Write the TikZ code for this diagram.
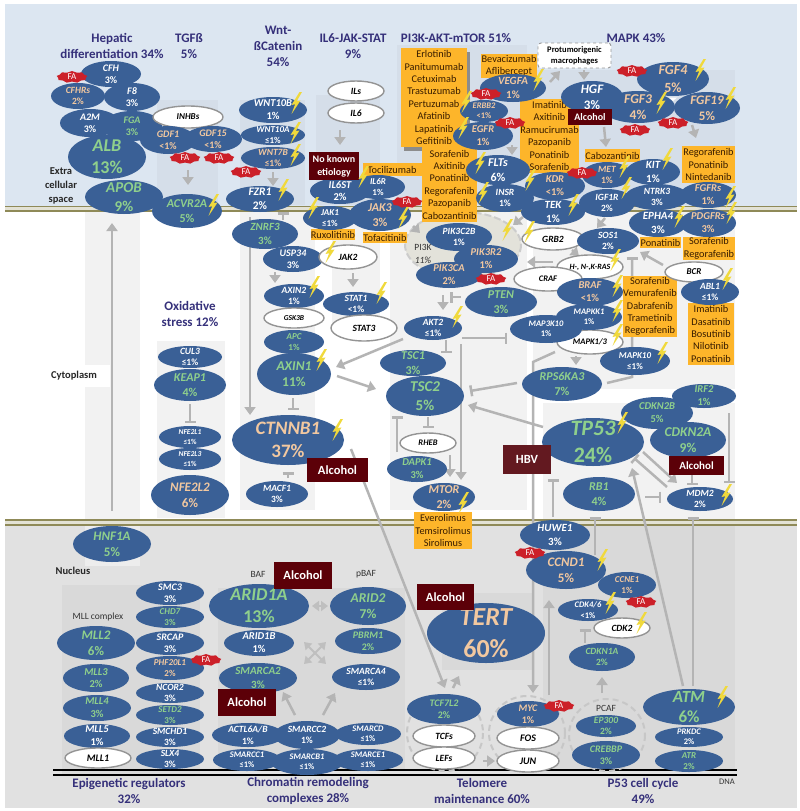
\documentclass[tikz,border=0pt]{standalone}
\usepackage{fontspec}
\setmainfont{Carlito}
\usetikzlibrary{arrows.meta,shapes.geometric,shapes.symbols}
\pgfdeclarelayer{back}
\pgfdeclarelayer{conn}
\pgfsetlayers{back,conn,main}
\definecolor{genefill}{HTML}{3A6096}
\definecolor{greentxt}{HTML}{8FD08C}
\definecolor{tantxt}{HTML}{F2C8A0}
\definecolor{linkgray}{HTML}{B4B4B4}
\definecolor{drugfill}{HTML}{FDB52A}
\definecolor{maroon}{HTML}{5C0008}
\definecolor{navytxt}{HTML}{35307A}
\definecolor{boltc}{HTML}{F0D93C}
\definecolor{olive}{HTML}{8F8A58}
\definecolor{bandblue}{HTML}{DCE6F1}
\definecolor{bandpanel}{HTML}{D5DEE9}
\definecolor{nucbase}{HTML}{E1E1E1}
\definecolor{nucshade}{HTML}{D9D9D9}
\definecolor{cytopanel}{HTML}{F2F2F2}
\definecolor{badge}{HTML}{CC2029}
\definecolor{blobfill}{HTML}{E3E2DA}
\tikzset{
  genebase/.style={ellipse,inner sep=-45pt,align=center,fill=genefill},
  wn/.style={text=white},
  gn/.style={text=greentxt},
  tn/.style={text=tantxt},
  opennode/.style={ellipse,inner sep=-45pt,align=center,fill=white,draw=black!42,line width=1.4pt,text=black},
  drugbox/.style={rectangle,inner sep=0pt,fill=drugfill,align=center,text=black!78!orange,
    font=\fontsize{10.3}{12.4}\selectfont},
  alcbox/.style={rectangle,inner sep=0pt,fill=maroon,text=white,font=\fontsize{12.5}{14}\selectfont\bfseries},
  fabadge/.style={starburst,starburst points=9,starburst point height=1.4pt,random starburst=0,
    minimum width=31pt,minimum height=12pt,inner sep=0pt,fill=badge,text=white,
    font=\fontsize{9}{10}\selectfont},
  title/.style={align=center,text=navytxt,inner sep=0pt,font=\fontsize{13}{16}\selectfont\bfseries},
  place/.style={align=center,text=black!85,inner sep=0pt,font=\fontsize{10.5}{14}\selectfont\bfseries},
  minor/.style={align=center,text=black!80,inner sep=0pt,font=\fontsize{9.5}{13}\selectfont},
  arr/.style={draw=linkgray,line width=2.5pt,-{Triangle[length=8pt,width=11pt]}},
  tee/.style={draw=linkgray,line width=2.5pt,-{Bar[width=11pt]}},
  panel/.style={fill=cytopanel,draw=none},
  toppanel/.style={fill=bandpanel,draw=none},
  nucpanel/.style={fill=nucshade,draw=none},
  ring/.style={draw=black!22,line width=2pt,dash pattern=on 6pt off 4pt},
}
% gene{id}{x}{y}{rx}{ry}{size}{colour}{name}{share}
\newcommand{\gene}[9]{%
  \pgfmathsetmacro\gl{#6*1.22}%
  \node[genebase,#7,minimum width=2*#4 pt,minimum height=2*#5 pt,
    font=\fontsize{#6}{\gl}\selectfont\bfseries] (#1) at (#2,#3) {{\itshape #8}\\#9};}
% open{id}{x}{y}{rx}{ry}{size}{name}
\newcommand{\opn}[7]{%
  \node[opennode,minimum width=2*#4 pt,minimum height=2*#5 pt,
    font=\fontsize{#6}{#6}\selectfont\bfseries\itshape] (#1) at (#2,#3) {#7};}
\newcommand{\bolt}[2]{%
  \fill[boltc,shift={(#1,#2)}] (3.5,-11) -- (-4.5,2) -- (-.8,1.2) -- (-4.5,11) -- (4.5,-2.5) -- (.8,-2) -- (6,-11) -- cycle;}
\newcommand{\conn}[5][arr]{\draw[#1] ([shift={(#3)}]#2.center) -- ([shift={(#5)}]#4.center);}
\begin{document}
\begin{tikzpicture}[x=1pt,y=-1pt]
\useasboundingbox (0,0) rectangle (800,811);

\begin{pgfonlayer}{back}
  \fill[white] (0,0) rectangle (800,811);
  % extracellular band, nucleus and membranes
  \fill[bandblue] (5,4) rectangle (797,206);
  \fill[nucbase] (5,525) rectangle (797,808);
  % pathway panels
  \fill[panel] (85,212) rectangle (140,520);
  \fill[white] (85,365) rectangle (110,387);
  \fill[panel] (157,341) rectangle (225,518);
  \fill[panel] (240,212) rectangle (315,510);
  \fill[panel] (332,212) rectangle (380,325);
  \fill[panel] (390,212) rectangle (527,510);
  \fill[panel] (533,212) rectangle (735,389);
  \fill[panel] (543,403) rectangle (735,520);
  \fill[toppanel] (157,100) rectangle (218,205);
  \fill[toppanel] (240,100) rectangle (305,205);
  \fill[toppanel] (316,95) rectangle (380,205);
  \fill[toppanel] (397,45) rectangle (527,205);
  \fill[toppanel] (533,70) rectangle (735,205);
  \fill[nucpanel] (62,585) rectangle (200,775);
  \fill[nucpanel] (218,588) rectangle (405,770);
  \fill[nucpanel] (442,593) rectangle (533,670);
  \fill[nucpanel] (543,525) rectangle (735,770);
  \fill[nucbase!60!white] (85,525) rectangle (140,566);
  % lipid bilayers
  \fill[olive!25!white] (5,206) rectangle (797,211);
  \fill[olive!25!white] (5,520) rectangle (797,525);
  \draw[olive,line width=1.8pt] (5,206.5) -- (797,206.5) (5,210.8) -- (797,210.8);
  \draw[olive,line width=1.8pt] (5,520.2) -- (797,520.2) (5,524.8) -- (797,524.8);
  % chromatin strand
  \draw[black,line width=1.8pt] (53,770) -- (737,770) (53,775) -- (737,775);
  % complexes
  \draw[ring] (445,733) ellipse (38 and 38);
  \draw[ring] (527,733) ellipse (38 and 37);
  \draw[ring] (607,735) ellipse (38 and 36);
  \fill[blobfill] (463,245) ellipse (58 and 33);
  \draw[black!20,line width=2pt,dash pattern=on 7pt off 3pt] (463,245) ellipse (58 and 33);
\end{pgfonlayer}

% section headings and compartments
\node[title] (tHep) at (112,46) {Hepatic\\differentiation 34\%};
\node[title] (tTgf) at (189,46) {TGFß\\5\%};
\node[title] (tWnt) at (278,46) {Wnt-\\ßCatenin\\54\%};
\node[title] (tIl) at (353,46) {IL6-JAK-STAT\\9\%};
\node[title] (tPi) at (456,38) {PI3K-AKT-mTOR 51\%};
\node[title] (tMap) at (636,38) {MAPK 43\%};
\node[title] (tOx) at (190,314) {Oxidative\\stress 12\%};
\node[title] (tEpi) at (129,791) {Epigenetic regulators\\32\%};
\node[title] (tChr) at (308,791) {Chromatin remodeling\\complexes 28\%};
\node[title] (tTel) at (482,791) {Telomere\\maintenance 60\%};
\node[title] (tP53) at (643,791) {P53 cell cycle\\49\%};
\node[place] (pExt) at (61,186) {Extra\\cellular\\space};
\node[place] (pCyt) at (74,376) {Cytoplasm};
\node[place] (pNuc) at (73,571) {Nucleus};
\node[minor] (mMll) at (98,617) {MLL complex};
\node[minor] (mBaf) at (258,574) {BAF};
\node[minor] (mPbaf) at (366,574) {pBAF};
\node[minor] (mPcaf) at (606,708) {PCAF};
\node[minor,font=\fontsize{8.5}{10}\selectfont] (mDna) at (727,782) {DNA};

% targeted therapies
\fill[black!45] (404,52) rectangle (470,151);
\node[drugbox,minimum width=66pt,minimum height=99pt] (dEgfr) at (434,97.5) {Erlotinib\\Panitumumab\\Cetuximab\\Trastuzumab\\Pertuzumab\\Afatinib\\Lapatinib\\Gefitinib};
\node[drugbox,minimum width=59pt,minimum height=13pt] (dToc) at (392,169.5) {Tocilizumab};
\node[drugbox,minimum width=55pt,minimum height=75pt] (dSor) at (449.5,184.5) {Sorafenib\\Axitinib\\Ponatinib\\Regorafenib\\Pazopanib\\Cabozantinib};
\node[drugbox,minimum width=56pt,minimum height=24pt] (dBev) at (509,66) {Bevacizumab\\Aflibercept};
\node[drugbox,minimum width=57pt,minimum height=74pt] (dIma) at (549.5,136) {Imatinib\\Axitinib\\Ramucirumab\\Pazopanib\\Ponatinib\\Sorafenib};
\node[drugbox,minimum width=55pt,minimum height=13pt] (dCab) at (612.5,155.5) {Cabozantinib};
\node[drugbox,minimum width=53pt,minimum height=37pt] (dReg) at (708.5,164.5) {Regorafenib\\Ponatinib\\Nintedanib};
\node[drugbox,minimum width=41pt,minimum height=11pt] (dPon) at (660.5,242.5) {Ponatinib};
\node[drugbox,minimum width=52pt,minimum height=23pt] (dSr2) at (709,248.5) {Sorafenib\\Regorafenib};
\node[drugbox,minimum width=44pt,minimum height=11pt] (dRux) at (333,234.5) {Ruxolitinib};
\node[drugbox,minimum width=44pt,minimum height=11pt] (dTof) at (385,237.5) {Tofacitinib};
\node[drugbox,minimum width=54pt,minimum height=61pt] (dBraf) at (650,306.5) {Sorafenib\\Vemurafenib\\Dabrafenib\\Trametinib\\Regorafenib};
\node[drugbox,minimum width=46pt,minimum height=62pt] (dAbl) at (711,334) {Imatinib\\Dasatinib\\Bosutinib\\Nilotinib\\Ponatinib};
\node[drugbox,minimum width=58pt,minimum height=37pt] (dEve) at (443,530.5) {Everolimus\\Temsirolimus\\Sirolimus};

% hepatic differentiation
\gene{CFH}{111}{74}{30}{13}{10}{wn}{CFH}{3\%}
\gene{CFHRs}{78}{96}{27}{13}{9.5}{tn}{CFHRs}{2\%}
\gene{Feight}{132}{97}{28}{14}{10}{wn}{F8}{3\%}
\gene{AtwoM}{90}{123}{30}{14}{10}{wn}{A2M}{3\%}
\gene{FGA}{132}{126}{30}{15}{10}{gn}{FGA}{3\%}
\gene{ALB}{107}{157}{39}{22}{18}{gn}{ALB}{13\%}
\gene{APOB}{124}{197}{39}{17}{15}{gn}{APOB}{9\%}
\gene{HNFoneA}{112}{544}{39}{18}{13}{gn}{HNF1A}{5\%}

% TGF-beta
\opn{INHBs}{188}{117}{35}{11}{9}{INHBs}
\gene{GDFone}{168}{140}{28}{14}{10}{tn}{GDF1}{<1\%}
\gene{GDFfifteen}{213}{139}{29}{13}{10}{tn}{GDF15}{<1\%}
\gene{ACVR}{187}{211}{35}{17}{12}{gn}{ACVR2A}{5\%}

% Wnt and beta-catenin
\gene{WNTtenB}{273}{110}{34}{13}{10.5}{wn}{WNT10B}{1\%}
\gene{WNTtenA}{273}{135}{32}{10}{9}{wn}{WNT10A}{≤1\%}
\gene{WNTsevenB}{273}{158}{32}{11}{9.5}{tn}{WNT7B}{≤1\%}
\gene{FZR}{260}{199}{34}{13}{11.5}{wn}{FZR1}{2\%}
\gene{ZNRF}{265}{234}{33}{15}{11}{gn}{ZNRF3}{3\%}
\gene{USP}{293}{259}{30}{13}{10}{wn}{USP34}{3\%}
\opn{JAKtwo}{348}{257}{29}{12}{9.5}{JAK2}
\gene{AXINtwo}{294}{296}{30}{12}{9.5}{wn}{AXIN2}{1\%}
\opn{GSK}{294}{318}{30}{10}{7.5}{GSK3B}
\gene{APC}{294}{342}{30}{12}{9}{gn}{APC}{1\%}
\gene{AXINone}{294}{374}{37}{21}{13.5}{gn}{AXIN1}{11\%}
\gene{CTNNB}{288}{440}{56}{25}{19}{tn}{CTNNB1}{37\%}
\gene{MACF}{277}{494}{31}{13}{9.5}{wn}{MACF1}{3\%}

% oxidative stress
\gene{CUL}{190}{357}{32}{11}{9.5}{wn}{CUL3}{≤1\%}
\gene{KEAP}{190}{385}{36}{16}{12}{gn}{KEAP1}{4\%}
\gene{NFEone}{190}{437}{31}{11}{7.5}{wn}{NFE2L1}{≤1\%}
\gene{NFEthree}{190}{459}{31}{11}{7.5}{wn}{NFE2L3}{≤1\%}
\gene{NFEtwo}{190}{495}{39}{20}{13}{tn}{NFE2L2}{6\%}

% IL6-JAK-STAT
\opn{ILs}{356}{91}{28}{10}{9.5}{ILs}
\opn{ILsix}{356}{113}{28}{10}{9.5}{IL6}
\gene{ILsixST}{340}{191}{30}{13}{10.5}{wn}{IL6ST}{2\%}
\gene{ILsixR}{378}{187}{27}{12}{9}{wn}{IL6R}{1\%}
\gene{JAKone}{330}{218}{27}{12}{9}{wn}{JAK1}{≤1\%}
\gene{JAKthree}{380}{215}{31}{16}{12}{tn}{JAK3}{3\%}
\gene{STATone}{356}{304}{33}{12}{9.5}{wn}{STAT1}{<1\%}
\opn{STATthree}{364}{328}{33}{13}{9.5}{STAT3}

% PI3K-AKT-mTOR
\node[minor] (mPi) at (423,247) {PI3K};
\node[minor,font=\fontsize{9.5}{12}\selectfont\itshape] (mPct) at (423,260) {11\%};
\gene{PIKctwo}{459}{237}{33}{14}{9.5}{wn}{PIK3C2B}{1\%}
\gene{PIKrtwo}{486}{259}{32}{14}{10.5}{tn}{PIK3R2}{1\%}
\gene{PIKca}{449}{275}{33}{13}{10.5}{tn}{PIK3CA}{2\%}
\gene{PTEN}{501}{302}{36}{15}{12}{gn}{PTEN}{3\%}
\gene{AKT}{433}{328}{29}{12}{9.5}{wn}{AKT2}{≤1\%}
\gene{TSCone}{413}{363}{33}{13}{12}{gn}{TSC1}{3\%}
\gene{TSCtwo}{425}{396}{39}{20}{15}{gn}{TSC2}{5\%}
\opn{RHEB}{428}{443}{28}{10}{8.5}{RHEB}
\gene{DAPK}{417}{469}{30}{13}{10.5}{gn}{DAPK1}{3\%}
\gene{MTOR}{444}{497}{31}{14}{12}{tn}{MTOR}{2\%}

% receptors and ligands
\gene{VEGFA}{513}{88}{33}{14}{11}{tn}{VEGFA}{1\%}
\gene{ERBB}{484}{111}{24}{11}{8.5}{tn}{ERBB2}{<1\%}
\gene{EGFR}{483}{136}{30}{14}{10.5}{tn}{EGFR}{1\%}
\gene{FLTs}{498}{170}{32}{15}{12}{wn}{FLTs}{6\%}
\gene{INSR}{505}{198}{29}{14}{9.5}{wn}{INSR}{1\%}
\gene{KDR}{555}{186}{30}{14}{10.5}{tn}{KDR}{<1\%}
\gene{TEK}{553}{212}{32}{13}{11}{wn}{TEK}{1\%}
\gene{MET}{607}{175}{25}{13}{9.5}{tn}{MET}{1\%}
\gene{IGF}{607}{203}{28}{14}{9.5}{wn}{IGF1R}{2\%}
\gene{KIT}{653}{172}{27}{13}{11}{wn}{KIT}{1\%}
\gene{NTRK}{657}{197}{32}{13}{9.5}{wn}{NTRK3}{3\%}
\gene{FGFRs}{708}{195}{28}{13}{10.5}{tn}{FGFRs}{1\%}
\gene{EPHA}{658}{223}{29}{14}{11}{wn}{EPHA4}{3\%}
\gene{PDGFRs}{708}{223}{28}{14}{10.5}{tn}{PDGFRs}{3\%}
\gene{HGF}{592}{97}{31}{16}{13}{wn}{HGF}{3\%}
\gene{FGFfour}{673}{79}{36}{17}{14}{tn}{FGF4}{5\%}
\gene{FGFnineteen}{707}{108}{33}{16}{13}{tn}{FGF19}{5\%}
\gene{FGFthree}{638}{107}{37}{16}{13.5}{tn}{FGF3}{4\%}
\fill[white] (669,97.5) -- (677,97.5) -- (673,101) -- cycle;

% MAPK cascade
\opn{GRB}{553}{239}{31}{11}{9.5}{GRB2}
\gene{SOS}{608}{241}{31}{13}{9.5}{wn}{SOS1}{2\%}
\opn{RAS}{590}{267}{33}{12}{8}{H-, N-,K-RAS}
\opn{CRAF}{548}{279}{34}{12}{8.5}{CRAF}
\gene{BRAF}{590}{292}{33}{14}{10.5}{tn}{BRAF}{<1\%}
\opn{MAPKo}{590}{342}{33}{12}{8.5}{MAPK1/3}
\gene{MAPKK}{589}{317}{33}{13}{8.5}{wn}{MAPKK1}{1\%}
\gene{MAPkten}{546}{329}{36}{14}{8.5}{wn}{MAP3K10}{1\%}
\gene{MAPKten}{635}{361}{35}{14}{9}{wn}{MAPK10}{≤1\%}
\gene{RPS}{562}{384}{40}{17}{12}{gn}{RPS6KA3}{7\%}
\opn{BCR}{694}{272}{29}{10}{9}{BCR}
\gene{ABL}{710}{292}{29}{13}{9.5}{wn}{ABL1}{≤1\%}

% P53 and the cell cycle
\gene{IRF}{704}{396}{32}{12}{10.5}{gn}{IRF2}{1\%}
\gene{CDKNtwoB}{657}{413}{36}{16}{10.5}{gn}{CDKN2B}{5\%}
\gene{CDKNtwoA}{688}{440}{38}{18}{13.5}{gn}{CDKN2A}{9\%}
\gene{TP}{593}{442}{51}{24}{22}{gn}{TP53}{24\%}
\gene{RB}{599}{494}{36}{17}{12}{gn}{RB1}{4\%}
\gene{MDM}{700}{499}{33}{12}{9.5}{wn}{MDM2}{2\%}
\gene{HUWE}{555}{535}{35}{15}{11}{wn}{HUWE1}{3\%}
\gene{CCNE}{627}{585}{29}{13}{9}{tn}{CCNE1}{1\%}
\gene{CCND}{566}{570}{40}{19}{13}{tn}{CCND1}{5\%}
\gene{CDKfour}{588}{610}{30}{11}{8.5}{wn}{CDK4/6}{<1\%}
\opn{CDKtwo}{622}{628}{28}{10}{9.5}{CDK2}
\gene{CDKNoneA}{602}{657}{33}{14}{9.5}{gn}{CDKN1A}{2\%}
\gene{EP}{606}{726}{30}{11}{9.5}{gn}{EP300}{2\%}
\gene{CREBBP}{606}{755}{34}{14}{10}{gn}{CREBBP}{3\%}
\gene{ATM}{689}{707}{46}{18}{17}{gn}{ATM}{6\%}
\gene{PRKDC}{689}{737}{34}{10}{8.5}{wn}{PRKDC}{2\%}
\gene{ATR}{689}{761}{34}{11}{9}{gn}{ATR}{2\%}

% telomere maintenance
\gene{TERT}{486}{633}{59}{30}{26}{tn}{TERT}{60\%}
\gene{TCF}{444}{709}{37}{15}{10}{gn}{TCF7L2}{2\%}
\opn{TCFs}{444}{736}{31}{11}{9.5}{TCFs}
\opn{LEFs}{444}{758}{31}{11}{9.5}{LEFs}
\gene{MYC}{528}{714}{31}{13}{10}{tn}{MYC}{1\%}
\opn{FOS}{528}{738}{31}{11}{10}{FOS}
\opn{JUN}{528}{761}{31}{11}{10}{JUN}

% epigenetic regulators
\gene{SMC}{170}{593}{34}{12}{10}{wn}{SMC3}{3\%}
\gene{CHD}{170}{617}{34}{11}{9}{gn}{CHD7}{3\%}
\gene{SRCAP}{170}{643}{34}{12}{10}{wn}{SRCAP}{3\%}
\gene{PHF}{170}{668}{34}{12}{9}{tn}{PHF20L1}{2\%}
\gene{NCOR}{170}{693}{34}{10}{9.5}{wn}{NCOR2}{3\%}
\gene{SETD}{170}{715}{34}{10}{9}{gn}{SETD2}{3\%}
\gene{SMCHD}{170}{737}{34}{10}{9.5}{wn}{SMCHD1}{3\%}
\gene{SLX}{170}{759}{34}{10}{9.5}{wn}{SLX4}{3\%}
\gene{MLLtwo}{96}{643}{39}{17}{13}{gn}{MLL2}{6\%}
\gene{MLLthree}{96}{678}{33}{14}{10.5}{gn}{MLL3}{2\%}
\gene{MLLfour}{97}{708}{34}{13}{10.5}{gn}{MLL4}{3\%}
\gene{MLLfive}{97}{736}{33}{12}{10.5}{wn}{MLL5}{1\%}
\opn{MLLone}{98}{758}{33}{10}{10}{MLL1}

% chromatin remodelling
\gene{ARIDoneA}{259}{606}{50}{22}{18}{gn}{ARID1A}{13\%}
\gene{ARIDoneB}{259}{643}{35}{13}{10.5}{wn}{ARID1B}{1\%}
\gene{SMARCAtwo}{258}{678}{39}{15}{11}{gn}{SMARCA2}{3\%}
\gene{ARIDtwo}{368}{606}{38}{19}{13.5}{gn}{ARID2}{7\%}
\gene{PBRM}{368}{641}{33}{13}{10}{gn}{PBRM1}{2\%}
\gene{SMARCAfour}{366}{677}{34}{13}{9.5}{wn}{SMARCA4}{≤1\%}
\gene{ACTL}{248}{735}{36}{12}{9.5}{wn}{ACTL6A/B}{1\%}
\gene{SMARCD}{368}{734}{33}{11}{8.5}{wn}{SMARCD}{≤1\%}
\gene{SMARCCtwo}{307}{735}{33}{14}{9.5}{wn}{SMARCC2}{1\%}
\gene{SMARCCone}{247}{760}{34}{11}{8.5}{wn}{SMARCC1}{≤1\%}
\gene{SMARCE}{368}{760}{35}{11}{8.5}{wn}{SMARCE1}{≤1\%}
\gene{SMARCB}{307}{762}{36}{13}{8.5}{wn}{SMARCB1}{≤1\%}

% aetiological factors
\node[alcbox,minimum width=50pt,minimum height=28pt,align=center,font=\fontsize{10}{13}\selectfont\bfseries] (aNk) at (334,166) {No known\\etiology};
\node[alcbox,minimum width=61pt,minimum height=24pt] (aCtn) at (337.5,470) {Alcohol};
\node[alcbox,minimum width=44pt,minimum height=16pt,font=\fontsize{10}{12}\selectfont\bfseries] (aHgf) at (590,117) {Alcohol};
\node[alcbox,minimum width=55pt,minimum height=19pt,font=\fontsize{11}{13}\selectfont\bfseries] (aMdm) at (696.5,465.5) {Alcohol};
\node[alcbox,minimum width=48pt,minimum height=29pt,fill=maroon!80!gray] (aHbv) at (527,459.5) {HBV};
\node[alcbox,minimum width=57pt,minimum height=26pt] (aTert) at (445.5,597) {Alcohol};
\node[alcbox,minimum width=58pt,minimum height=27pt] (aBaf) at (303,575.5) {Alcohol};
\node[alcbox,minimum width=58pt,minimum height=27pt] (aSm) at (247,702.5) {Alcohol};

% macrophage box
\node[rectangle,rounded corners=3pt,fill=white,draw=black!40,dashed,line width=.9pt,align=center,inner sep=0pt,
  minimum width=73pt,minimum height=25pt,font=\fontsize{8.5}{11}\selectfont\bfseries] (mac) at (574.5,55.5) {Protumorigenic\\macrophages};

% somatic fusion and amplification badges
\node[fabadge] (fa1) at (72,77) {FA};
\node[fabadge] (fa2) at (185,158) {FA};
\node[fabadge] (fa3) at (219,158) {FA};
\node[fabadge] (fa4) at (246,172) {FA};
\node[fabadge] (fa5) at (407,202) {FA};
\node[fabadge] (fa6) at (486,94) {FA};
\node[fabadge] (fa7) at (510,123) {FA};
\node[fabadge] (fa8) at (632,71) {FA};
\node[fabadge] (fa9) at (635,130) {FA};
\node[fabadge] (fa10) at (673,123) {FA};
\node[fabadge] (fa11) at (582,173) {FA};
\node[fabadge] (fa12) at (491,279) {FA};
\node[fabadge] (fa13) at (530,553) {FA};
\node[fabadge] (fa14) at (641,602) {FA};
\node[fabadge] (fa15) at (559,706) {FA};
\node[fabadge] (fa16) at (206,660) {FA};

% recurrent mutation marks
\bolt{296}{103}\bolt{295}{133}\bolt{295}{155}\bolt{283}{190}\bolt{213}{205}\bolt{313}{208}
\bolt{363}{177}\bolt{330}{252}\bolt{403}{218}\bolt{314}{287}\bolt{381}{293}\bolt{457}{317}
\bolt{321}{360}\bolt{507}{230}\bolt{529}{232}\bolt{538}{80}\bolt{466}{102}\bolt{463}{128}
\bolt{480}{163}\bolt{483}{193}\bolt{530}{180}\bolt{573}{205}\bolt{624}{167}\bolt{626}{188}
\bolt{667}{159}\bolt{700}{70}\bolt{661}{103}\bolt{730}{98}\bolt{730}{197}\bolt{731}{213}
\bolt{679}{217}\bolt{615}{260}\bolt{617}{286}\bolt{617}{311}\bolt{617}{335}\bolt{662}{353}
\bolt{727}{279}\bolt{622}{423}\bolt{726}{495}\bolt{602}{560}\bolt{610}{603}\bolt{641}{623}
\bolt{722}{697}\bolt{337}{430}\bolt{463}{503}

\begin{pgfonlayer}{conn}
  \conn{HNFoneA}{0,-33}{APOB}{-12,26}
  \conn{GDFone}{20,30}{ACVR}{1,-26}
  \conn{WNTsevenB}{0,14}{FZR}{13,-13}
  \conn{ILsix}{-16,17}{ILsixST}{0,-46}
  \conn{FZR}{-10,18}{CTNNB}{-38,-25}
  \conn[tee]{ZNRF}{18,-14}{FZR}{23,13}
  \conn{USP}{-18,13}{AXINtwo}{-19,-13}
  \conn{JAKtwo}{5,16}{STATone}{-3,-17}
  \conn[tee]{AXINone}{-1,24}{CTNNB}{5,-30}
  \conn[tee]{MACF}{11,-16}{CTNNB}{0,32}
  \conn[tee]{KEAP}{0,19}{NFEone}{0,-14}
  \conn{AKT}{-30,11}{AXINone}{42,-7}
  \conn{AXINone}{43,2}{TSCtwo}{-49,-7}
  \conn{CTNNB}{63,9}{TCF}{1,-21}
  \conn{TCF}{9,-21}{TERT}{-27,43}
  \conn[tee]{AKT}{13,12}{TSCone}{33,-10}
  \conn[tee]{AKT}{29,10}{MAPkten}{-39,9}
  \conn{AKT}{28,16}{MTOR}{17,-17}
  \conn{RHEB}{22,12}{MTOR}{6,-20}
  \conn[tee]{TSCtwo}{3,21}{RHEB}{0,-15}
  \conn[tee]{DAPK}{-20,-17}{TSCtwo}{-28,20}
  \conn{PIKca}{-6,20}{AKT}{10,-18}
  \conn[tee]{PTEN}{-40,-5}{PIKca}{1,22}
  \conn[tee]{RPS}{-45,-1}{TSCtwo}{45,-5}
  \conn{TP}{-50,-15}{TSCtwo}{43,9}
  \draw[arr] ([shift={(9,23)}]MAPkten.center) -- ([shift={(-13,33)}]MAPkten.center) -- ([shift={(5,-21)}]MYC.center);
  \conn{MAPKo}{-14,14}{RPS}{14,-19}
  \draw[tee] ([shift={(45,-1)}]RPS.center) -- ([shift={(70,-7)}]RPS.center) -- ([shift={(24,16)}]SOS.center);
  \conn{BCR}{-31,-7}{SOS}{32,11}
  \conn{RAS}{-37,-5}{PIKrtwo}{41,3}
  \conn{GRB}{19,11}{RAS}{-11,-11}
  \conn{IGF}{-2,15}{SOS}{-11,-13}
  \conn{TEK}{-30,5}{PIKrtwo}{27,-34}
  \conn{JAKthree}{33,11}{PIKctwo}{-39,-4}
  \conn{EGFR}{29,9}{FLTs}{14,-15}
  \conn{VEGFA}{37,-6}{mac}{-14.5,15.5}
  \conn{mac}{9.5,14.5}{HGF}{-8,-17}
  \conn{HGF}{12,30}{MET}{-1,-28}
  \conn{FGFnineteen}{-15,17}{dReg}{-12.5,-26.5}
  \conn{TP}{50,10}{MDM}{-23,-16}
  \conn[tee]{MDM}{-33,-12}{TP}{41,16}
  \conn[tee]{CDKNtwoA}{4,30}{MDM}{-8,-14}
  \conn[tee]{IRF}{25,17}{MDM}{29,-16}
  \conn[tee]{RB}{46,3}{MDM}{-39,-2}
  \conn[tee]{HUWE}{-2,-18}{TP}{-40,37}
  \conn[tee]{CCND}{29,-15}{RB}{-4,23}
  \conn[tee]{ATM}{4,-21}{MDM}{-7,18}
  \conn{ATM}{-6,-21}{TP}{39,26}
  \conn{MYC}{21,-19}{CCND}{-17,30}
  \conn[tee]{CDKNoneA}{-17,-14}{CDKfour}{-3,19}
  \conn{EP}{-4,-33}{CDKNoneA}{0,20}
  \conn{LEFs}{39,3}{JUN}{-33,0}
  \draw[draw=black!25,line width=2pt,{Triangle[length=7pt,width=10pt]}-{Triangle[length=7pt,width=10pt]}]
    ([shift={(53,0)}]ARIDoneA.center) -- ([shift={(-40,0)}]ARIDtwo.center);
  \coordinate (hub) at (315,653);
  \foreach \dx/\dy in {-11/-11,11/-11,-11/11,11/11}
    \draw[draw=black!25,line width=2pt,-{Triangle[length=7pt,width=9pt]}] (hub) -- ++(\dx,\dy);
  \conn{SMARCCtwo}{-12,-20}{SMARCAtwo}{25,14}
  \conn{SMARCCtwo}{16,-20}{SMARCAfour}{-31,16}
\end{pgfonlayer}
\end{tikzpicture}
\end{document}
